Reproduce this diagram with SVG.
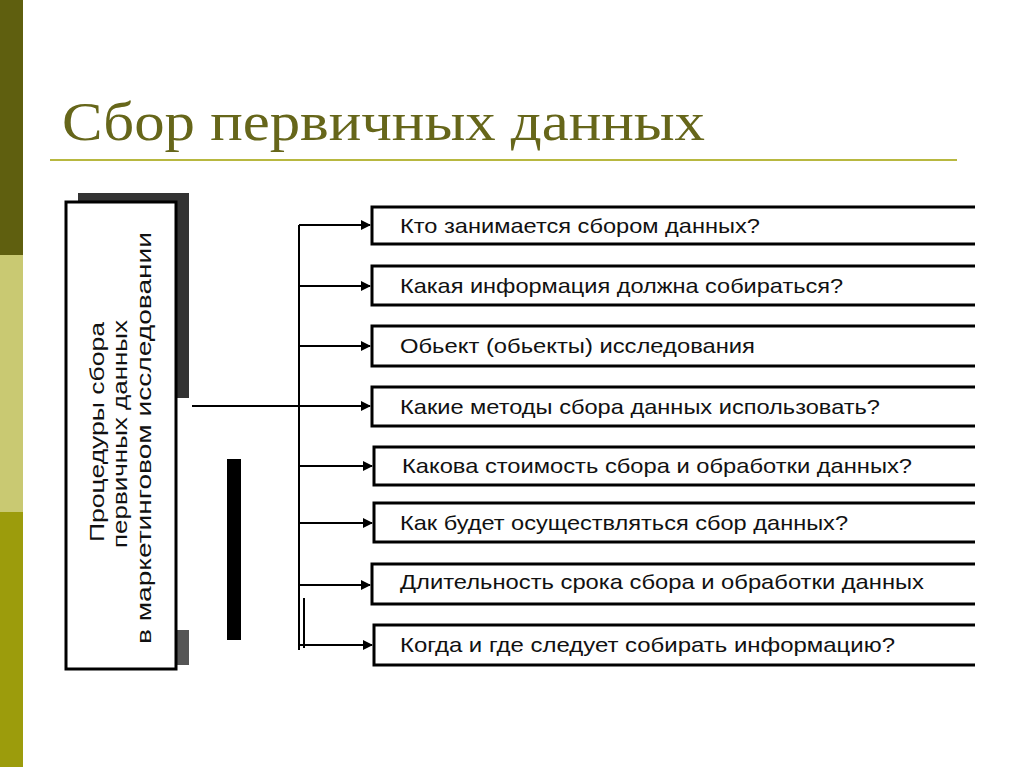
<svg xmlns="http://www.w3.org/2000/svg" width="1024" height="767" viewBox="0 0 1024 767">
<defs>
<marker id="ah" markerWidth="10" markerHeight="10" refX="9" refY="5" orient="auto" markerUnits="userSpaceOnUse"><path d="M0,0 L10,5 L0,10 z" fill="#000"/></marker>
<style>
.box{fill:#fff;stroke:#000;stroke-width:3}
.t{font-family:"Liberation Sans",Arial,sans-serif;font-size:21px;fill:#111}
.c{stroke:#000;stroke-width:2;fill:none}
</style>
</defs>
<rect width="1024" height="767" fill="#fff"/>
<rect x="0" y="0" width="23" height="255" fill="#5f5f0f"/>
<rect x="0" y="255" width="23" height="257" fill="#c9c972"/>
<rect x="0" y="512" width="23" height="255" fill="#9c9c0c"/>
<text x="62" y="140" font-family="Liberation Serif,serif" font-size="54" fill="#66661a" textLength="643" lengthAdjust="spacingAndGlyphs">Сбор первичных данных</text>
<line x1="50" y1="160" x2="957" y2="160" stroke="#b8b840" stroke-width="2"/>
<g id="main">
<rect x="176" y="193" width="13" height="205" fill="#333"/>
<rect x="78" y="193" width="111" height="10" fill="#333"/>
<rect x="176" y="630" width="13" height="35" fill="#555"/>
<rect x="66" y="202" width="110" height="467" class="box"/>
<text class="t" font-size="24" text-anchor="middle" textLength="220" lengthAdjust="spacingAndGlyphs" transform="translate(104,432) rotate(-90)">Процедуры сбора</text>
<text class="t" font-size="24" text-anchor="middle" textLength="228" lengthAdjust="spacingAndGlyphs" transform="translate(127,434) rotate(-90)">первичных данных</text>
<text class="t" font-size="24" text-anchor="middle" textLength="412" lengthAdjust="spacingAndGlyphs" transform="translate(151,438) rotate(-90)">в маркетинговом исследовании</text>
</g>
<rect x="227" y="459" width="14" height="181" fill="#000"/>
<g id="connectors">
<line class="c" x1="299" y1="225" x2="299" y2="650"/>
<line class="c" x1="304" y1="598" x2="304" y2="648"/>
<line class="c" x1="192" y1="406" x2="299" y2="406"/>
<line class="c" x1="299" y1="225" x2="370" y2="225" marker-end="url(#ah)"/>
<line class="c" x1="299" y1="286" x2="370" y2="286" marker-end="url(#ah)"/>
<line class="c" x1="299" y1="346" x2="370" y2="346" marker-end="url(#ah)"/>
<line class="c" x1="299" y1="406" x2="370" y2="406" marker-end="url(#ah)"/>
<line class="c" x1="299" y1="466" x2="372" y2="466" marker-end="url(#ah)"/>
<line class="c" x1="299" y1="523" x2="372" y2="523" marker-end="url(#ah)"/>
<line class="c" x1="299" y1="585" x2="370" y2="585" marker-end="url(#ah)"/>
<line class="c" x1="299" y1="645" x2="372" y2="645" marker-end="url(#ah)"/>
</g>
<g id="n1"><path class="box" d="M975,207 H372 V244 H975"/><text class="t" x="400" y="233" textLength="360" lengthAdjust="spacingAndGlyphs">Кто занимается сбором данных?</text></g>
<g id="n2"><path class="box" d="M975,266 H372 V305 H975"/><text class="t" x="400" y="293" textLength="443" lengthAdjust="spacingAndGlyphs">Какая информация должна собираться?</text></g>
<g id="n3"><path class="box" d="M975,326 H372 V366 H975"/><text class="t" x="400" y="353" textLength="355" lengthAdjust="spacingAndGlyphs">Обьект (обьекты) исследования</text></g>
<g id="n4"><path class="box" d="M975,387 H372 V426 H975"/><text class="t" x="400" y="414" textLength="480" lengthAdjust="spacingAndGlyphs">Какие методы сбора данных использовать?</text></g>
<g id="n5"><path class="box" d="M975,447 H374 V485 H975"/><text class="t" x="402" y="473" textLength="510" lengthAdjust="spacingAndGlyphs">Какова стоимость сбора и обработки данных?</text></g>
<g id="n6"><path class="box" d="M975,503 H374 V542 H975"/><text class="t" x="400" y="530" textLength="448" lengthAdjust="spacingAndGlyphs">Как будет осуществляться сбор данных?</text></g>
<g id="n7"><path class="box" d="M975,564 H372 V604 H975"/><text class="t" x="400" y="589" textLength="524" lengthAdjust="spacingAndGlyphs">Длительность срока сбора и обработки данных</text></g>
<g id="n8"><path class="box" d="M975,625 H374 V665 H975"/><text class="t" x="400" y="652" textLength="495" lengthAdjust="spacingAndGlyphs">Когда и где следует собирать информацию?</text></g>
</svg>
